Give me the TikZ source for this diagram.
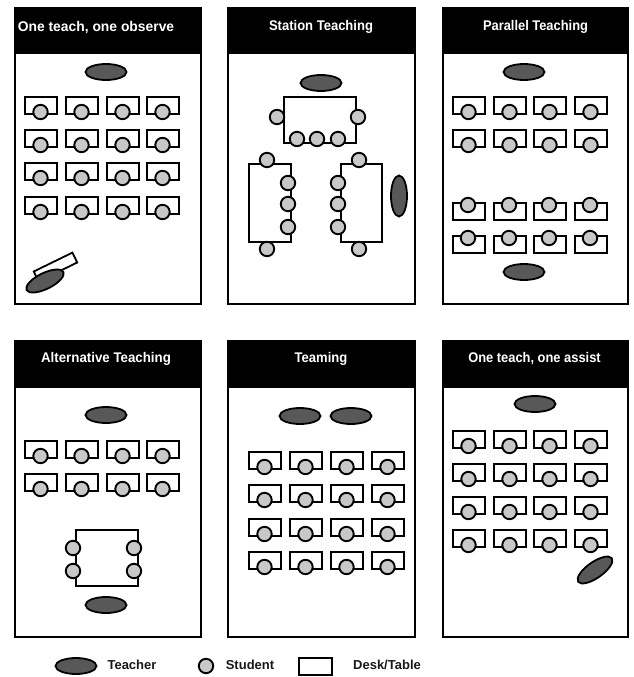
\documentclass[tikz,border=0pt]{standalone}
\usepackage{fontspec}
\setmainfont{Liberation Sans}
\definecolor{tgray}{HTML}{585858}
\definecolor{sgray}{HTML}{C8C8C8}
\tikzset{
  panelbox/.style={draw=black,line width=1.7pt,fill=white},
  headbox/.style={draw=black,fill=black,line width=1pt},
  title/.style={text=white,font=\fontsize{14}{16}\selectfont\bfseries,anchor=center,inner sep=0pt},
  legendtext/.style={text=black!90,font=\fontsize{13}{15}\selectfont\bfseries,anchor=center,inner sep=0pt},
  teacher/.style={draw=black,line width=1.8pt,fill=tgray},
  student/.style={draw=black,line width=1.9pt,fill=sgray},
  desktable/.style={draw=black,line width=1.8pt,fill=white}
}
\newcommand{\panelat}[3]{% x0 x1 y0
  \pgfmathsetmacro{\pa}{#3+46}\pgfmathsetmacro{\pb}{#3+296}
  \draw[panelbox] (#1,#3) rectangle (#2,\pb);
  \draw[headbox] (#1,#3) rectangle (#2,\pa);
}
\newcommand{\teach}[3][0]{\draw[teacher,rotate around={#1:(#2,#3)}] (#2,#3) ellipse [x radius=20.5,y radius=8];}
\newcommand{\stud}[2]{\draw[student] (#1,#2) circle [radius=7.2];}
\newcommand{\deskup}[2]{%
  \draw[desktable] (#1,#2) rectangle ++(32,17);
  \stud{#1+15.5}{#2+15}}
\newcommand{\deskdown}[2]{%
  \draw[desktable] (#1,#2) rectangle ++(32,17);
  \stud{#1+15}{#2+2}}
\begin{document}
\begin{tikzpicture}[x=1pt,y=-1pt]
\useasboundingbox (0,0) rectangle (633,677);
\fill[white] (0,0) rectangle (633,677);
\panelat{15}{201}{8}
\panelat{228}{415}{8}
\panelat{443}{628}{8}
\panelat{15}{201}{341}
\panelat{228}{415}{341}
\panelat{443}{628}{341}
\node[title,xscale=.99] (t1) at (96,28) {One teach, one observe};
\node[title,xscale=.93] (t2) at (321,27) {Station Teaching};
\node[title,xscale=.92] (t3) at (535.5,27) {Parallel Teaching};
\node[title,xscale=.95] (t4) at (106,359) {Alternative Teaching};
\node[title,xscale=.93] (t5) at (321,359) {Teaming};
\node[title,xscale=.92] (t6) at (534.5,359) {One teach, one assist};
% panel 1
\teach{106}{72}
\foreach \x in {25,66,107,147} \foreach \y in {97,130,163,197} {\deskup{\x}{\y}}
\draw[desktable,rotate around={26:(55.5,267)}] (34,261.5) rectangle (77,272.5);
\teach[26]{45}{281}
% panel 2
\teach{321}{83}
\draw[desktable] (284,97) rectangle (356,143);
\stud{277}{117}\stud{358}{117}\stud{297}{139}\stud{317}{139}\stud{338}{139}
\draw[desktable] (249,164) rectangle (291,242);
\stud{267}{160}\stud{288}{183}\stud{288}{204}\stud{288}{227}\stud{267}{249}
\draw[desktable] (341,164) rectangle (382,242);
\stud{359}{160}\stud{338}{183}\stud{338}{204}\stud{338}{227}\stud{359}{249}
\teach[90]{399}{196}
% panel 3
\teach{524}{72}
\foreach \x in {453,494,534,575} {
  \foreach \y in {97,130} {\deskup{\x}{\y}}
  \foreach \y in {203,236} {\deskdown{\x}{\y}}
}
\teach{524}{272}
% panel 4
\teach{106}{415}
\foreach \x in {25,66,107,147} \foreach \y in {441,474} {\deskup{\x}{\y}}
\draw[desktable] (76,530) rectangle (138,586);
\stud{73}{548}\stud{73}{571}\stud{134}{548}\stud{134}{571}
\teach{106}{605}
% panel 5
\teach{300}{416}\teach{351}{416}
\foreach \x in {249,290,331,372} \foreach \y in {452,485,519,552} {\deskup{\x}{\y}}
% panel 6
\teach{535}{404}
\foreach \x in {453,494,534,575} \foreach \y in {431,464,497,530} {\deskup{\x}{\y}}
\teach[35]{595}{570}
% legend
\teach{76}{666}
\node[legendtext] (lt) at (132,665) {Teacher};
\stud{206}{666}
\node[legendtext] (ls) at (250,665) {Student};
\draw[desktable] (299,658) rectangle (332,675);
\node[legendtext] (ld) at (387,665) {Desk/Table};
\end{tikzpicture}
\end{document}
